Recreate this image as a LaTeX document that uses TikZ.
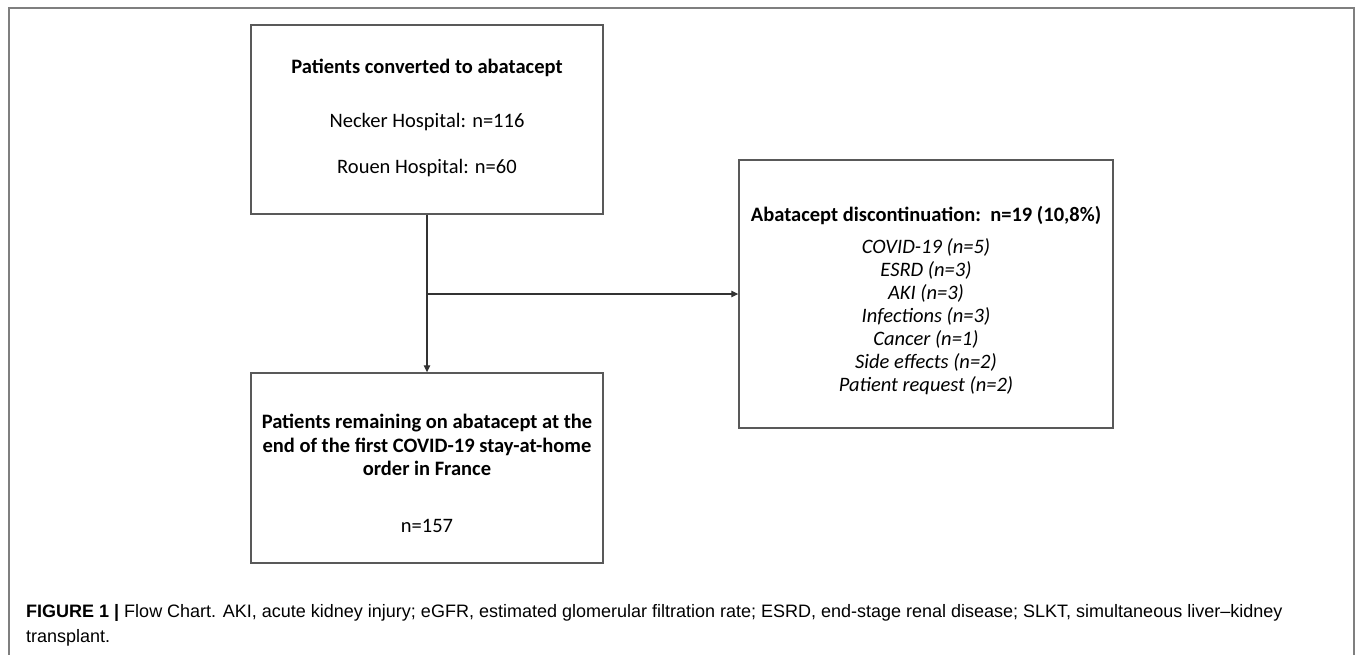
\documentclass[tikz,border=0pt]{standalone}
\usepackage{fontspec}
\setmainfont{Carlito}
\newfontfamily\capfont{Liberation Sans}
\usetikzlibrary{arrows.meta}
\definecolor{boxgray}{HTML}{595959}
\definecolor{framegray}{HTML}{7F7F7F}
\definecolor{linegray}{HTML}{333333}
\tikzset{
  flowbox/.style={draw=boxgray, line width=1.4pt, minimum width=352pt, inner sep=0pt},
  boxtext/.style={inner sep=0pt, align=center, font=\fontsize{20.5}{23.5}\selectfont},
  conn/.style={draw=linegray, line width=1.1pt},
  connarrow/.style={conn, -{Triangle[length=7pt,width=6.5pt]}},
}
\begin{document}
\begin{tikzpicture}[x=1pt,y=-1pt]
\useasboundingbox (0,0) rectangle (1355,654);
\draw[framegray, line width=1.5pt] (9,660) -- (9,8) -- (1354,8) -- (1354,660);
\node[flowbox, minimum height=189pt] (box1) at (427,119.5) {};
\node[flowbox, minimum height=190pt] (box2) at (427,468) {};
\node[flowbox, minimum width=374pt, minimum height=268pt] (box3) at (926,294) {};
\node[boxtext] (box1text) at ([yshift=1.5pt]box1.center)
  {\textbf{Patients converted to abatacept}\\[30pt]
   Necker Hospital: n=116\\[23pt]
   Rouen Hospital: n=60};
\node[boxtext] (box2text) at ([yshift=-5.5pt]box2.center)
  {\textbf{Patients remaining on abatacept at the}\\[0pt]
   \textbf{end of the first COVID-19 stay-at-home}\\[0pt]
   \textbf{order in France}\\[33.5pt]
   n=157};
\node[boxtext] (box3text) at ([yshift=-6.5pt]box3.center)
  {\textbf{Abatacept discontinuation:\ \ n=19 (10,8\%)}\\[8pt]
   \textit{COVID-19 (n=5)}\\[-0.5pt]
   \textit{ESRD (n=3)}\\[-0.5pt]
   \textit{AKI (n=3)}\\[-0.5pt]
   \textit{Infections (n=3)}\\[-0.5pt]
   \textit{Cancer (n=1)}\\[-0.5pt]
   \textit{Side effects (n=2)}\\[-0.5pt]
   \textit{Patient request (n=2)}};
\coordinate (junction) at (box1.south |- box3.west);
\draw[connarrow] (box1.south) -- (box2.north);
\draw[connarrow] (junction) -- (box3.west);
\node[anchor=base west, inner sep=0pt, align=left, font=\capfont\fontsize{18}{24.5}\selectfont] (caption) at (26,642)
  {\textbf{FIGURE 1 |} Flow Chart. AKI, acute kidney injury; eGFR, estimated glomerular filtration rate; ESRD, end-stage renal disease; SLKT, simultaneous liver–kidney\\
   transplant.};
\end{tikzpicture}
\end{document}
